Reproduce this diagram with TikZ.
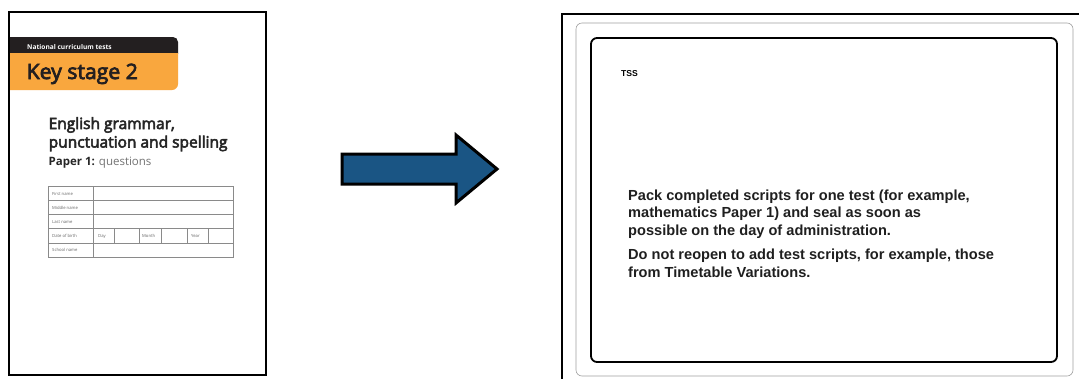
\documentclass[tikz,border=0pt]{standalone}
\usepackage{fontspec}
\setmainfont{Liberation Sans}
\newfontfamily\cover{Open Sans}
\newfontfamily\coverm[FakeBold=3.5]{Open Sans}
\definecolor{bannerdark}{HTML}{231F20}
\definecolor{bannerorange}{HTML}{F9A73E}
\definecolor{arrowblue}{HTML}{1A5584}
\definecolor{tablegray}{HTML}{8A8A8A}
\definecolor{framegray}{HTML}{A0A0A0}
\tikzset{
  page/.style={draw=black, line width=1.3pt},
  celltxt/.style={anchor=base west, inner sep=0pt, font=\cover\fontsize{4.2}{5}\selectfont, text=black!60},
  tabline/.style={draw=tablegray, line width=0.5pt},
  bodytxt/.style={anchor=base west, inner sep=0pt, font=\bfseries\fontsize{14.6}{17.5}\selectfont, align=left, text=black!88},
  titletxt/.style={anchor=base west, inner sep=0pt, text=black!85, font=\coverm\fontsize{15.5}{18}\selectfont},
}
\begin{document}
\begin{tikzpicture}[x=1pt,y=-1pt]
\useasboundingbox (0,0) rectangle (1079,378);
% ---------- left page ----------
\fill[white] (9,12) rectangle (266,375);
\begin{scope}
  \clip (9,0) rectangle (300,53);
  \fill[bannerdark, rounded corners=5pt] (0,37) rectangle (178,70);
\end{scope}
\begin{scope}
  \clip (9,53) rectangle (300,120);
  \fill[bannerorange, rounded corners=6pt] (0,40) rectangle (178,90);
\end{scope}
\node (nct) [anchor=base west, inner sep=0pt, text=white, font=\cover\bfseries\fontsize{6.6}{8}\selectfont] at (27,49) {National curriculum tests};
\node (ks2) [anchor=base west, inner sep=0pt, text=bannerdark, font=\coverm\fontsize{21.2}{24}\selectfont] at (26.5,79) {Key stage 2};
\node (eg) [titletxt] at (48.5,129) {English grammar,};
\node (ps) [titletxt] at (48.5,147.5) {punctuation and spelling};
\node (p1) [anchor=base west, inner sep=0pt, font=\cover\fontsize{11.5}{14}\selectfont] at (48.5,165.5) {\textcolor{black!85}{\bfseries Paper 1:} \textcolor{black!55}{questions}};
% table
\draw[tabline] (48,186) rectangle (233,257);
\foreach \yy in {200,214,228,243} \draw[tabline] (48,\yy) -- (233,\yy);
\draw[tabline] (93,186) -- (93,257);
\foreach \xx in {114,139,161,187,208} \draw[tabline] (\xx,228) -- (\xx,243);
\node (r1) [celltxt] at (52,195) {First name};
\node (r2) [celltxt] at (52,209) {Middle name};
\node (r3) [celltxt] at (52,223) {Last name};
\node (r4) [celltxt] at (52,237.5) {Date of birth};
\node (r5) [celltxt] at (52,251.5) {School name};
\node (dd) [celltxt] at (98,237.5) {Day};
\node (mm) [celltxt] at (142,237.5) {Month};
\node (yy) [celltxt] at (191,237.5) {Year};
\draw[page] (9,12) rectangle (266,375);
% ---------- arrow ----------
\draw[fill=arrowblue, draw=black, line width=3pt, miter limit=10]
  (342,154) -- (456,154) -- (456,135) -- (497,169) -- (456,203) -- (456,184) -- (342,184) -- cycle;
% ---------- right page ----------
\draw[line width=1.3pt] (1085,14) -- (562,14) -- (562,385);
\draw[framegray, line width=0.6pt, rounded corners=6pt] (576,23) rectangle (1073,376);
\draw[black, line width=1.8pt, rounded corners=6pt] (591,38) rectangle (1057,362);
\node (tss) [anchor=base west, inner sep=0pt, font=\bfseries\fontsize{8.6}{10}\selectfont] at (621,76) {TSS};
\node (p1txt) [bodytxt] at (628,235) {Pack completed scripts for one test (for example,\\mathematics Paper 1) and seal as soon as\\possible on the day of administration.};
\node (p2txt) [bodytxt] at (628,277) {Do not reopen to add test scripts, for example, those\\from Timetable Variations.};
\end{tikzpicture}
\end{document}
